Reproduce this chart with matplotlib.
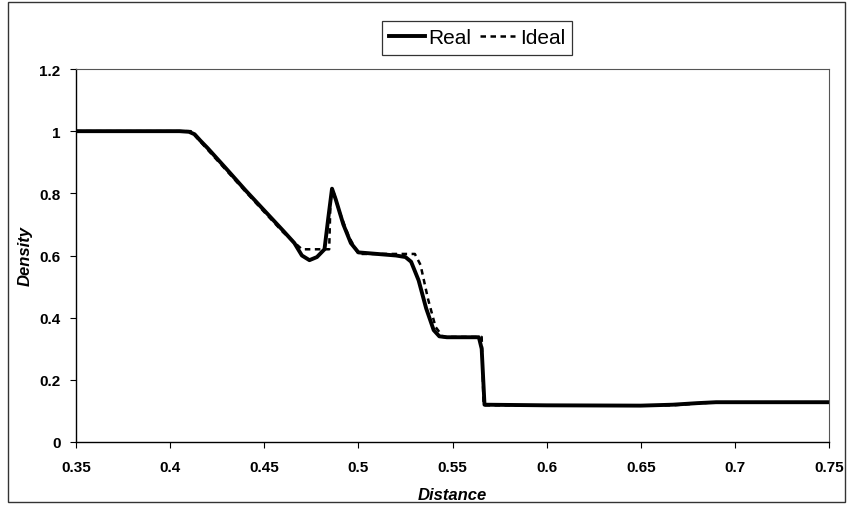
import matplotlib
matplotlib.use("Agg")
import matplotlib.pyplot as plt
from matplotlib.patches import Rectangle

plt.rcParams['font.family'] = ['Liberation Sans', 'DejaVu Sans']

ideal_x = [0.35, 0.411, 0.42, 0.43, 0.44, 0.45, 0.46, 0.47, 0.4845, 0.4852, 0.487, 0.49, 0.495,
           0.5, 0.53, 0.533, 0.537, 0.541, 0.545, 0.5655, 0.5665, 0.667, 0.69, 0.75]
ideal_y = [1.0, 1.0, 0.94, 0.873, 0.806, 0.74, 0.675, 0.62, 0.62, 0.78, 0.8, 0.74, 0.66,
           0.605, 0.605, 0.57, 0.46, 0.37, 0.338, 0.338, 0.118, 0.118, 0.128, 0.128]

real_x = [0.35, 0.405, 0.41, 0.413, 0.416, 0.42, 0.43, 0.44, 0.45, 0.46, 0.466, 0.47, 0.474,
          0.478, 0.482, 0.484, 0.486, 0.488, 0.492, 0.496, 0.5, 0.51, 0.52, 0.525, 0.528, 0.532,
          0.536, 0.54, 0.543, 0.547, 0.564, 0.5655, 0.567, 0.6, 0.65, 0.667, 0.68, 0.69, 0.75]
real_y = [1.0, 1.0, 0.998, 0.99, 0.97, 0.945, 0.878, 0.81, 0.745, 0.68, 0.64, 0.6, 0.585,
          0.595, 0.62, 0.72, 0.815, 0.78, 0.7, 0.64, 0.61, 0.605, 0.6, 0.595, 0.58, 0.52,
          0.43, 0.36, 0.34, 0.337, 0.337, 0.3, 0.12, 0.118, 0.117, 0.12, 0.125, 0.128, 0.128]

x_ticks = [0.35, 0.4, 0.45, 0.5, 0.55, 0.6, 0.65, 0.7, 0.75]
x_tick_labels = ['0.35', '0.4', '0.45', '0.5', '0.55', '0.6', '0.65', '0.7', '0.75']
y_ticks = [0, 0.2, 0.4, 0.6, 0.8, 1.0, 1.2]
y_tick_labels = ['0', '0.2', '0.4', '0.6', '0.8', '1', '1.2']

fig = plt.figure(figsize=(8.49, 5.06), dpi=100)
ax = fig.add_axes([76/849, 1 - 443/506, (829-76)/849, (443-70)/506])

ax.plot(real_x, real_y, color='black', lw=2.8, solid_joinstyle='round', label='Real')
ax.plot(ideal_x, ideal_y, color='black', lw=1.8, ls=(0, (2.2, 1.8)), label='Ideal')

ax.set_xlim(0.35, 0.75)
ax.set_ylim(0, 1.2)
ax.set_xticks(x_ticks)
ax.set_xticklabels(x_tick_labels)
ax.set_yticks(y_ticks)
ax.set_yticklabels(y_tick_labels)
ax.tick_params(direction='out', length=4, width=0.8, labelsize=11, colors='black')
ax.tick_params(axis='x', pad=9)
ax.tick_params(axis='y', pad=7)
for lab in ax.get_xticklabels() + ax.get_yticklabels():
    lab.set_fontweight('bold')

for s in ['left', 'bottom']:
    ax.spines[s].set_color('black')
    ax.spines[s].set_linewidth(1.0)
for s in ['top', 'right']:
    ax.spines[s].set_color('#555555')
    ax.spines[s].set_linewidth(0.8)

ax.set_xlabel('Distance', fontsize=12, fontweight='bold', style='italic', labelpad=9)
ax.set_ylabel('Density', fontsize=12, fontweight='bold', style='italic', labelpad=5)

leg = fig.legend(loc='center', bbox_to_anchor=(477/849, 1 - 39/506), ncol=2, frameon=True,
                 fontsize=15, handlelength=1.7, columnspacing=0.4, handletextpad=0.2,
                 borderpad=0.35, borderaxespad=0, fancybox=False, edgecolor='black')
leg.get_frame().set_linewidth(0.9)

fig.patches.append(Rectangle((8/849, 3/506), (845-8)/849, (503-3)/506, transform=fig.transFigure,
                             fill=False, edgecolor='#333333', lw=1.0))

fig.savefig('out.png', dpi=100)
